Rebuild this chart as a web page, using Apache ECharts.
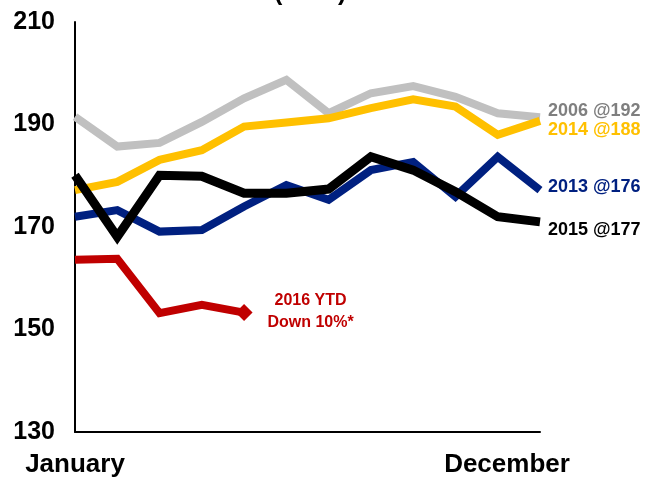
<!DOCTYPE html>
<html>
<head>
<meta charset="utf-8">
<script src="https://cdn.jsdelivr.net/npm/echarts@6/dist/echarts.min.js"></script>
<style>
html,body{margin:0;padding:0;background:#fff;}
#container{width:647px;height:481px;}
</style>
</head>
<body>
<div id="container"></div>
<script>
// months on x axis (only first and last are labelled)
var months = ['January','Feb','Mar','Apr','May','Jun','Jul','Aug','Sep','Oct','Nov','December'];
var yTicks = [130, 150, 170, 190, 210];

var y2006 = [191.5, 185.7, 186.4, 190.5, 195.1, 198.7, 192.2, 196.1, 197.5, 195.4, 192.2, 191.4];
var y2014 = [177.2, 178.8, 183.1, 185.0, 189.6, 190.4, 191.2, 193.2, 194.9, 193.5, 188.0, 190.7];
var y2013 = [172.0, 173.3, 169.1, 169.4, 174.0, 178.2, 175.3, 181.1, 182.7, 175.9, 183.7, 177.2];
var y2015 = [180.1, 168.1, 180.1, 179.9, 176.6, 176.6, 177.4, 183.7, 181.1, 176.9, 172.0, 171.0];
var y2016 = [163.6, 163.8, 153.2, 154.8, 153.3];

var page = {
    font: 'Liberation Sans, Arial, sans-serif',
    init: function () {
        this.generateCharts();
    },
    //一条线
    line: function (name, data, color, width, label, labelColor, dy) {
        return {
            name: name,
            type: 'line',
            data: data,
            symbol: 'none',
            lineStyle: { color: color, width: width, join: 'miter' },
            itemStyle: { color: color },
            endLabel: {
                show: true,
                formatter: label,
                color: labelColor,
                fontFamily: this.font,
                fontWeight: 'bold',
                fontSize: 18,
                distance: 8,
                offset: [0, dy]
            },
            animation: false
        };
    },
    generateCharts: function () {
        var that = this;
        // 2016 只画到五月, 末尾画菱形
        var red = y2016.map(function (v, i) {
            if (i < y2016.length - 1) return v;
            return {
                value: v,
                symbol: 'diamond',
                symbolSize: 17,
                label: {
                    show: true,
                    position: 'right',
                    distance: 0,
                    align: 'center',
                    verticalAlign: 'middle',
                    offset: [58, -1],
                    formatter: '2016 YTD\nDown 10%*',
                    color: '#C00000',
                    fontFamily: that.font,
                    fontWeight: 'bold',
                    fontSize: 16,
                    lineHeight: 22
                }
            };
        });

        var option = {
            animation: false,
            grid: { left: 75, right: 107, top: 22, bottom: 49 },
            graphic: [{
                type: 'text',
                left: 274,
                top: -19,
                style: {
                    text: '(000s)',
                    fill: '#000',
                    font: 'bold 25px Liberation Sans, Arial, sans-serif'
                }
            }],
            xAxis: {
                type: 'category',
                boundaryGap: false,
                data: months,
                axisLine: { lineStyle: { color: '#000', width: 2 } },
                axisTick: { show: false },
                axisLabel: {
                    interval: 0,
                    margin: 20,
                    color: '#000',
                    fontFamily: that.font,
                    fontWeight: 'bold',
                    fontSize: 26,
                    formatter: function (v, i) {
                        if (i === 0) return v;
                        if (i === months.length - 1) return '{dec|' + v + '}';
                        return '';
                    },
                    rich: {
                        dec: {
                            color: '#000',
                            fontFamily: that.font,
                            fontWeight: 'bold',
                            fontSize: 26,
                            padding: [0, 66, 0, 0]
                        }
                    }
                }
            },
            yAxis: {
                type: 'value',
                min: yTicks[0],
                max: yTicks[yTicks.length - 1],
                interval: 20,
                axisLine: { show: true, lineStyle: { color: '#000', width: 2 } },
                axisTick: { show: false },
                splitLine: { show: false },
                axisLabel: {
                    margin: 20,
                    color: '#000',
                    fontFamily: that.font,
                    fontWeight: 'bold',
                    fontSize: 25
                }
            },
            series: [
                that.line('2006', y2006, '#C0C0C0', 8, '2006 @192', '#7F7F7F', -6),
                that.line('2014', y2014, '#FFC000', 8, '2014 @188', '#FFC000', 9),
                that.line('2013', y2013, '#002080', 8, '2013 @176', '#002080', -3),
                that.line('2015', y2015, '#000000', 9, '2015 @177', '#000000', 8),
                {
                    name: '2016',
                    type: 'line',
                    data: red,
                    symbol: 'none',
                    lineStyle: { color: '#C00000', width: 8, join: 'miter' },
                    itemStyle: { color: '#C00000' },
                    animation: false
                }
            ]
        };
        echarts.init(document.getElementById('container')).setOption(option);
    }
};

page.init();
</script>
</body>
</html>
